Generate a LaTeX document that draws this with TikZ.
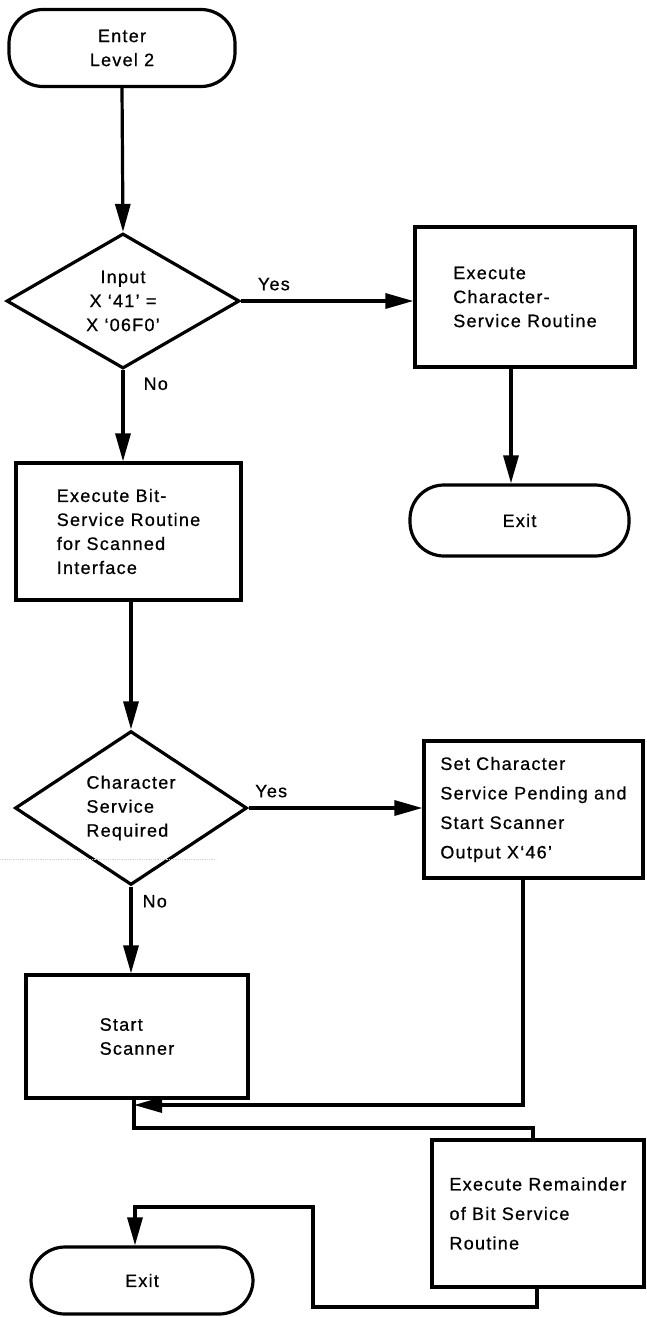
\documentclass[tikz,border=0pt]{standalone}
\usepackage{fontspec}
\setmainfont{Liberation Sans}[LetterSpace=7,FakeBold=0.7]
\usetikzlibrary{shapes.geometric,arrows.meta}
\begin{document}
\begin{tikzpicture}[x=1pt,y=-1pt,
  every node/.style={font=\fontsize{18}{24}\selectfont},
  ln/.style={line width=3.2pt},
  arr/.style={line width=3.2pt,-{Triangle[length=28pt,width=15pt]}},
  term/.style={draw,line width=3.2pt,rounded corners=34pt,inner sep=0pt,align=center},
  stepbox/.style={draw,line width=3.2pt,inner sep=0pt,align=left},
  dia/.style={draw,shape=diamond,line width=3.2pt,inner sep=0pt},
  lbl/.style={inner sep=0pt},
  wide/.style={font=\fontsize{18}{29.5}\selectfont}
]
\useasboundingbox (0,0) rectangle (646,1317);

% nodes
\node[term,minimum width=226pt,minimum height=77pt] (enter) at (122,48) {Enter\\Level 2};
\node[dia,minimum width=233pt,minimum height=135pt,align=center] (d1) at (123,301) {Input\\X ‘41’ =\\X ‘06F0’};
\node[stepbox,minimum width=220pt,minimum height=140pt] (cs) at (525,297) {Execute\\Character-\\Service Routine};
\node[term,minimum width=219pt,minimum height=71pt] (exit1) at (519.5,520.5) {Exit};
\node[stepbox,minimum width=225pt,minimum height=137pt] (box2) at (128.5,531.5) {Execute Bit-\\Service Routine\\for Scanned\\Interface};
\node[dia,minimum width=232pt,minimum height=135pt,align=left] (d2) at (131,808) {Character\\Service\\Required};
\node[stepbox,wide,minimum width=219pt,minimum height=137pt] (sc) at (533.5,809.5) {Set Character\\Service Pending and\\Start Scanner\\Output X‘46’};
\node[stepbox,minimum width=222pt,minimum height=123pt] (box3) at (137,1036.5) {Start\\Scanner};
\node[stepbox,wide,minimum width=212pt,minimum height=147pt] (box4) at (538,1213.5) {Execute Remainder\\of Bit Service\\Routine};
\node[term,minimum width=222pt,minimum height=67pt] (exit2) at (142,1280.5) {Exit};

% helper coordinates
\coordinate (c1) at (511,0);
\coordinate (c2) at (523,0);
\coordinate (j1) at (134,1105);
\coordinate (j2) at (134,1128);
\coordinate (j3) at (533,1128);
\coordinate (k1) at (537,1307);
\coordinate (k2) at (313,1307);
\coordinate (k3) at (313,1207);
\coordinate (k4) at (135,1207);

% connectors
\draw[arr] (enter.south) -- (d1.north);
\draw[arr] (d1.east) -- node[lbl,above=9pt,pos=0.19] (yes1) {Yes} (cs.west |- d1.east);
\draw[arr] (d1.south) -- node[lbl,right=19pt,pos=0.15] (no1) {No} (d1.south |- box2.north);
\draw[arr] (c1 |- cs.south) -- (c1 |- exit1.north);
\draw[arr] (d2.north |- box2.south) -- (d2.north);
\draw[arr] (d2.east) -- node[lbl,above=9pt,pos=0.13] (yes2) {Yes} (sc.west |- d2.east);
\draw[arr] (d2.south) -- node[lbl,right=10pt,pos=0.17] (no2) {No} (d2.south |- box3.north);
\draw[arr] (c2 |- sc.south) -- (c2 |- j1) -- (j1);
\draw[ln] (j1 |- box3.south) -- (j2) -- (j3) -- (j3 |- box4.north);
\draw[arr] (box4.south -| k1) -- (k1) -- (k2) -- (k3) -- (k4) -- (k4 |- exit2.north);

% faint scan line
\draw[gray!35,line width=0.8pt,densely dotted] (0,859) -- (216,859);
\end{tikzpicture}
\end{document}
